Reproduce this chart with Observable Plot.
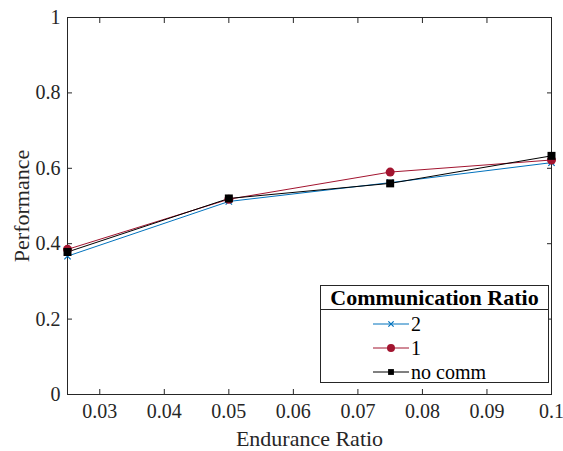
<!DOCTYPE html>
<html><head><meta charset="utf-8">
<script src="https://cdn.jsdelivr.net/npm/d3@7"></script>
<script src="https://cdn.jsdelivr.net/npm/@observablehq/plot@0.6"></script>
<style>
body{margin:0;background:#fff}
#wrap{position:relative;width:563px;height:451px;font-family:'Liberation Serif','Times New Roman',Times,'DejaVu Serif',serif;color:#262626}
#wrap svg text{font-family:'Liberation Serif','Times New Roman',Times,'DejaVu Serif',serif}
#legend{position:absolute;left:320px;top:285px;width:229px;height:98px;border:1px solid #262626;background:#fff;box-sizing:border-box}
#legend .title{font-weight:bold;font-size:22px;text-align:center;height:23px;line-height:23px;border-bottom:1px solid #262626;color:#000}
#legend .row{position:absolute;left:52px;height:24px;display:flex;align-items:center;font-size:20px;color:#000}
#legend svg{margin-right:2px}
</style>
</head><body><div id="wrap"></div>
<script>
const endurance = [0.025, 0.05, 0.075, 0.1];
const seriesNames = ["2", "1", "no comm"];
const perf2 = [0.367, 0.512, 0.562, 0.615];
const perf1 = [0.385, 0.518, 0.590, 0.622];
const perfNoComm = [0.378, 0.520, 0.560, 0.633];
const xTicks = [0.03, 0.04, 0.05, 0.06, 0.07, 0.08, 0.09, 0.1];
const yTicks = [0, 0.2, 0.4, 0.6, 0.8, 1];
const colors = ["#0072BD", "#A2142F", "#000000"];
const symbols = ["times", "circle", "square"];

const seriesValues = [perf2, perf1, perfNoComm];
const rows = [];
seriesNames.forEach((s, i) => endurance.forEach((x, j) => rows.push({x, y: seriesValues[i][j], s})));
const fmt = d => String(+d.toFixed(3));

const chart = Plot.plot({
  width: 563, height: 451,
  marginLeft: 67, marginRight: 12, marginTop: 17, marginBottom: 57,
  style: {fontSize: "22px", color: "#262626", background: "#fff"},
  x: {domain: [0.025, 0.1]},
  y: {domain: [0, 1]},
  color: {domain: seriesNames, range: colors},
  symbol: {domain: seriesNames, range: symbols},
  marks: [
    Plot.frame({stroke: "#262626", strokeWidth: 1}),
    Plot.axisX(xTicks, {anchor: "bottom", tickSize: -5, tickFormat: () => "", stroke: "#262626",
      label: "Endurance Ratio", labelAnchor: "center", labelOffset: 51, labelArrow: "none"}),
    Plot.axisX(xTicks, {anchor: "top", tickSize: -5, tickFormat: () => "", stroke: "#262626", label: null}),
    Plot.axisY(yTicks, {anchor: "left", tickSize: -5, tickFormat: () => "", stroke: "#262626",
      label: "Performance", labelAnchor: "center", labelOffset: 54, labelArrow: "none"}),
    Plot.axisY(yTicks, {anchor: "right", tickSize: -5, tickFormat: () => "", stroke: "#262626", label: null}),
    Plot.text(xTicks, {x: d => d, frameAnchor: "bottom", lineAnchor: "top", dy: 9, text: fmt, fontSize: 20, fill: "#262626"}),
    Plot.text(yTicks, {y: d => d, frameAnchor: "left", textAnchor: "end", dx: -7, text: fmt, fontSize: 20, fill: "#262626"}),
    Plot.line(rows, {x: "x", y: "y", z: "s", stroke: "s", strokeWidth: 1}),
    Plot.dot(rows.filter(d => d.s === "2"), {x: "x", y: "y", symbol: "s", stroke: "s", r: 3, strokeWidth: 1.2}),
    Plot.dot(rows.filter(d => d.s !== "2"), {x: "x", y: "y", symbol: "s", fill: "s", r: 4.5})
  ]
});
const wrap = document.getElementById("wrap");
wrap.appendChild(chart);

// Legend
const leg = document.createElement("div");
leg.id = "legend";
leg.innerHTML = `<div class="title">Communication Ratio</div>`;
seriesNames.forEach((s, i) => {
  const row = document.createElement("div");
  row.className = "row";
  row.style.top = (26 + i * 24) + "px";
  const sw = d3.create("svg").attr("width", 36).attr("height", 14);
  sw.append("line").attr("x1", 0).attr("x2", 36).attr("y1", 7).attr("y2", 7).attr("stroke", colors[i]).attr("stroke-width", 1);
  const sym = d3.symbol().type(symbols[i] === "times" ? d3.symbolTimes : symbols[i] === "circle" ? d3.symbolCircle : d3.symbolSquare)
    .size(symbols[i] === "times" ? 20 : symbols[i] === "circle" ? 50 : 34);
  const p = sw.append("path").attr("d", sym()).attr("transform", "translate(18,7)");
  if (symbols[i] === "times") p.attr("fill", "none").attr("stroke", colors[i]).attr("stroke-width", 1.2);
  else p.attr("fill", colors[i]);
  row.appendChild(sw.node());
  const t = document.createElement("span");
  t.textContent = s;
  row.appendChild(t);
  leg.appendChild(row);
});
wrap.appendChild(leg);
</script>
</body></html>
